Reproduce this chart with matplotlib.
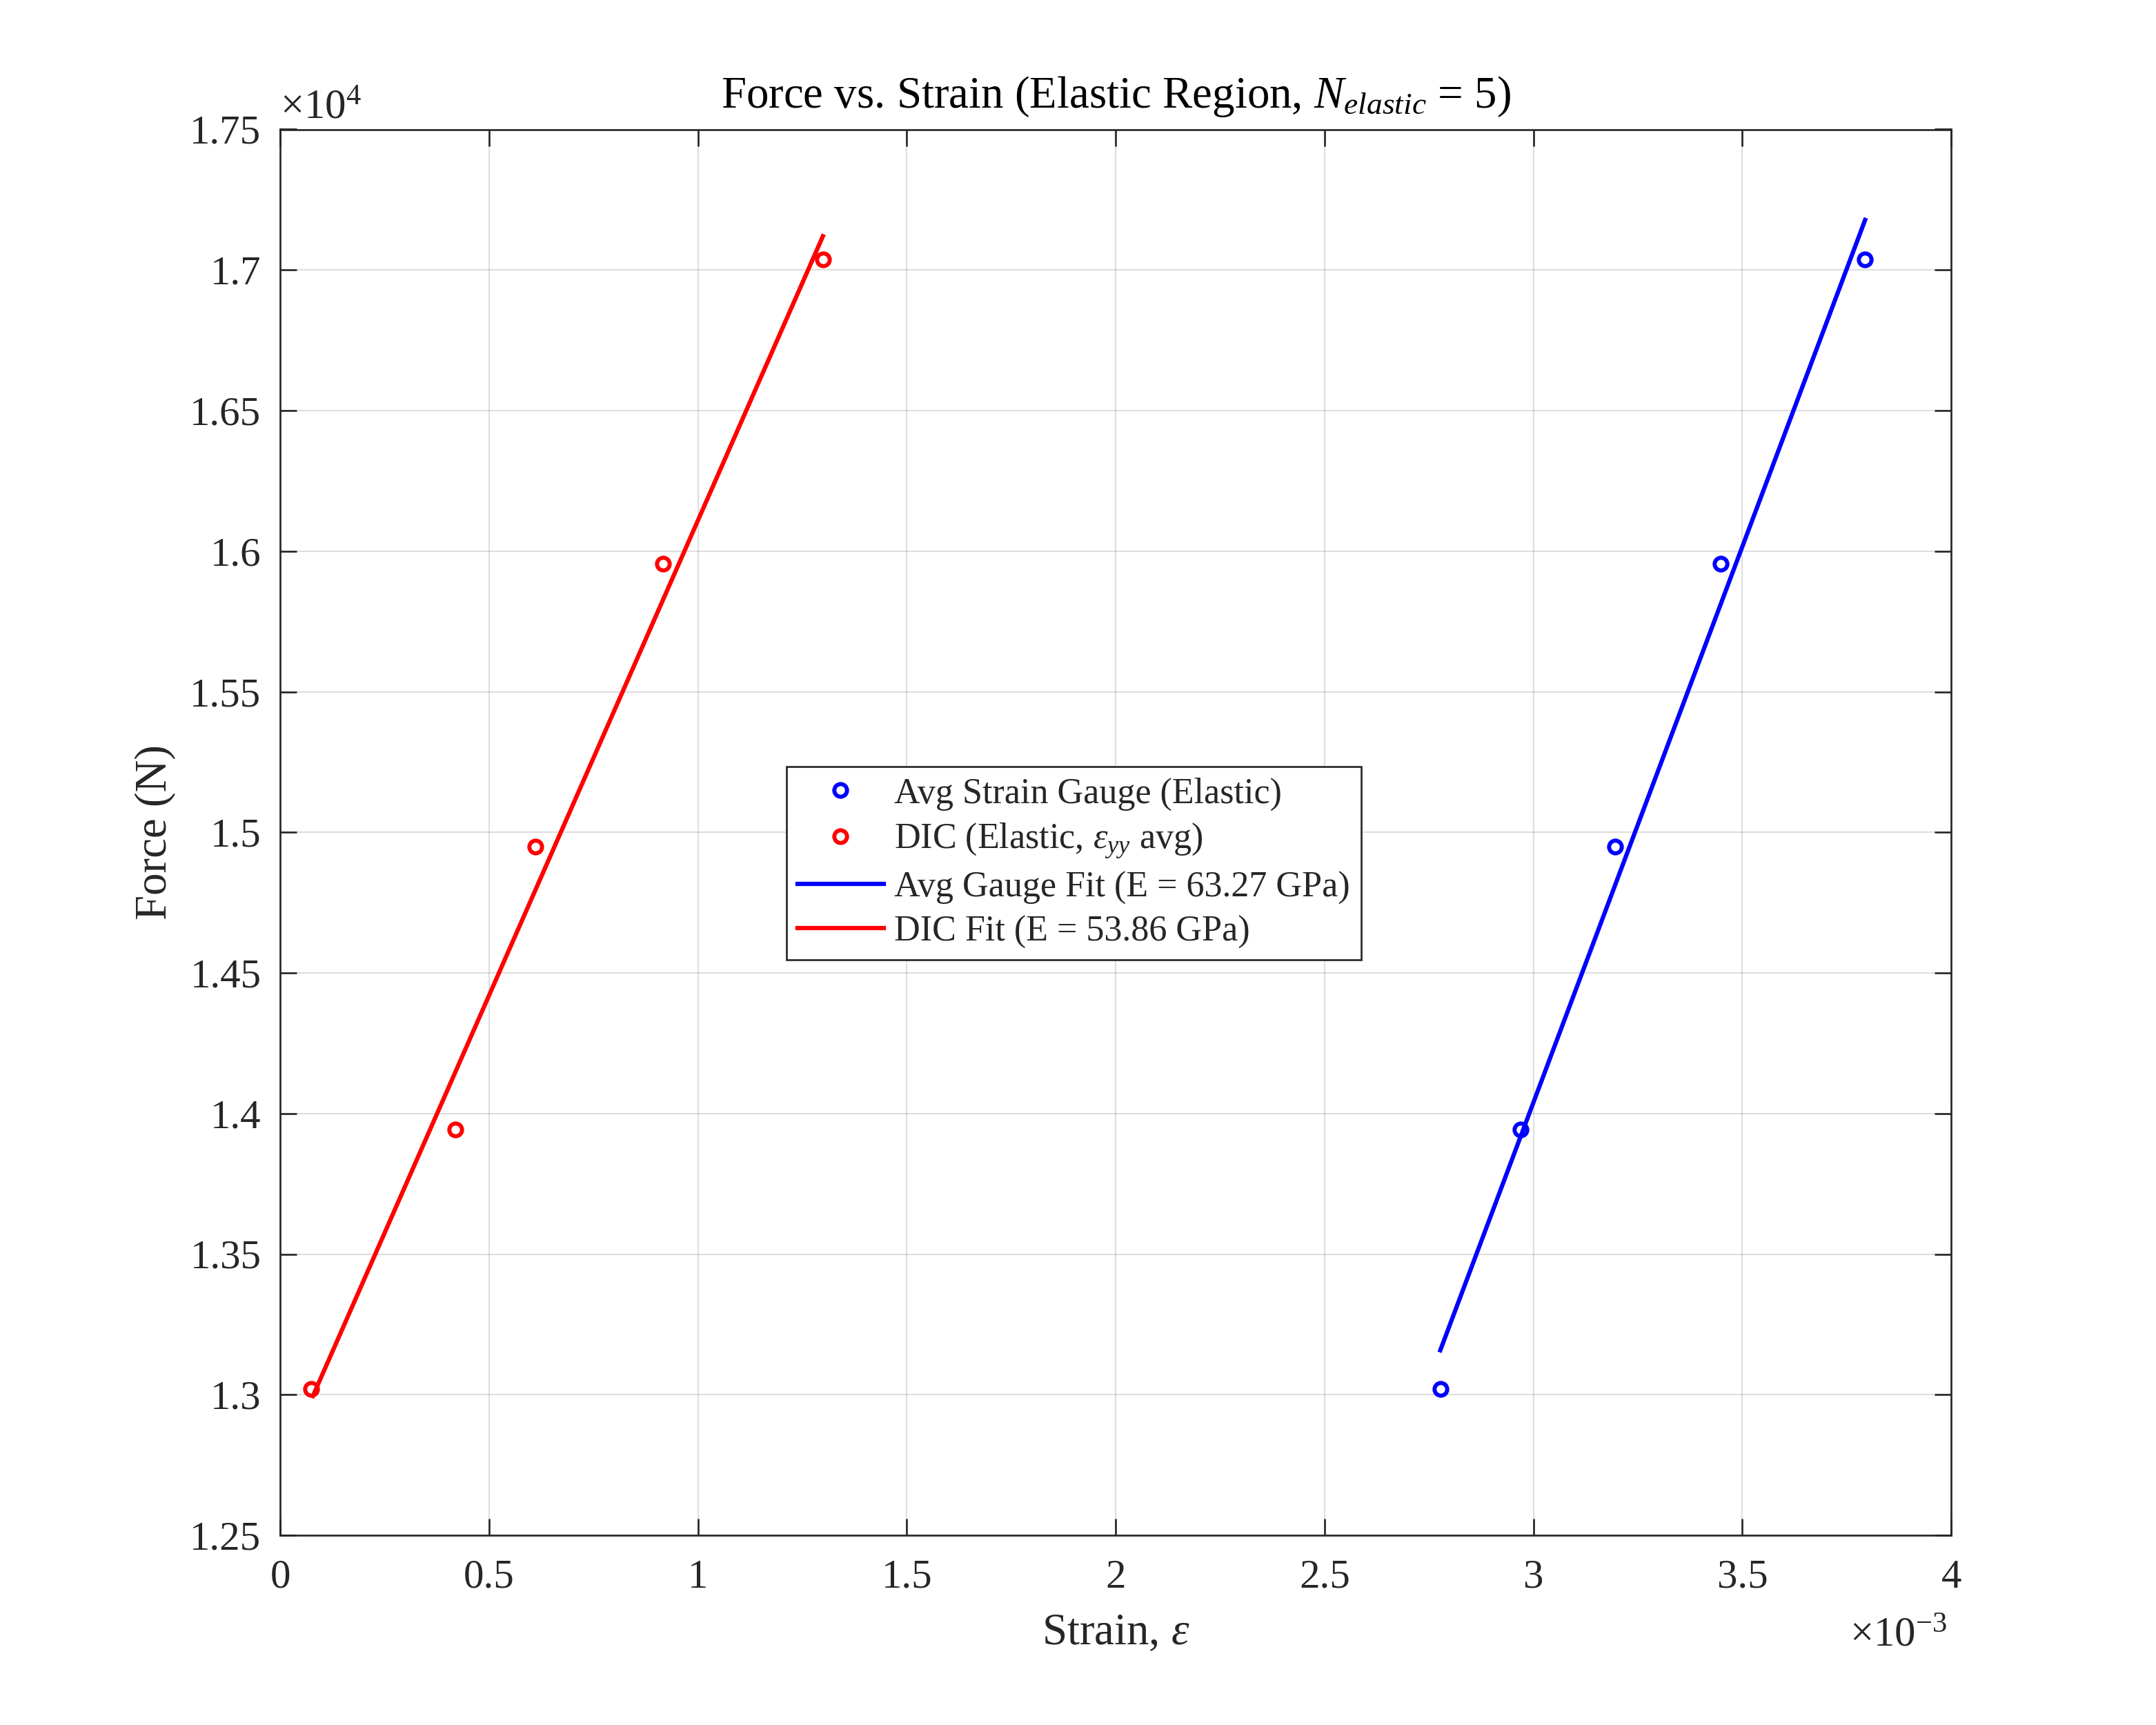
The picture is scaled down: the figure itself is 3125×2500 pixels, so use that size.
import matplotlib
matplotlib.use("Agg")
import matplotlib.pyplot as plt
from matplotlib.ticker import FuncFormatter, MultipleLocator

plt.rcParams['font.family'] = ['Liberation Serif', 'DejaVu Serif']
plt.rcParams['mathtext.fontset'] = 'custom'
plt.rcParams['mathtext.rm'] = 'Liberation Serif'
plt.rcParams['mathtext.it'] = 'Liberation Serif:italic'

# donnees
force = [13020, 13943, 14950, 15954, 17037]
strainGauge = [2.777e-3, 2.969e-3, 3.195e-3, 3.448e-3, 3.794e-3]
strainDIC = [0.0735e-3, 0.419e-3, 0.610e-3, 0.916e-3, 1.299e-3]

# droites de regression (extremites)
fitGaugeX = [2.777e-3, 3.794e-3]
fitGaugeY = [13158, 17178]
fitDICX = [0.0780e-3, 1.299e-3]
fitDICY = [12995, 17120]

labels = ["Avg Strain Gauge (Elastic)",
          r"DIC (Elastic, $\varepsilon_{yy}$ avg)",
          "Avg Gauge Fit (E = 63.27 GPa)",
          "DIC Fit (E = 53.86 GPa)"]

gris = "#262626"

fig = plt.figure(figsize=(12.5, 10), dpi=250)
ax = fig.add_axes([0.13, 0.11, 0.775, 0.815])

ax.plot(strainGauge, force, "o", color="blue", mfc="none", ms=5.3, mew=1.7, label=labels[0])
ax.plot(strainDIC, force, "o", color="red", mfc="none", ms=5.3, mew=1.7, label=labels[1])
ax.plot(fitGaugeX, fitGaugeY, "-", color="blue", lw=1.8, label=labels[2])
ax.plot(fitDICX, fitDICY, "-", color="red", lw=1.8, label=labels[3])

ax.set_xlim(0, 4e-3)
ax.set_ylim(12500, 17500)
ax.xaxis.set_major_locator(MultipleLocator(0.5e-3))
ax.yaxis.set_major_locator(MultipleLocator(500))
ax.xaxis.set_major_formatter(FuncFormatter(lambda v, p: f"{round(v * 1e3, 4):g}"))
ax.yaxis.set_major_formatter(FuncFormatter(lambda v, p: f"{round(v / 1e4, 4):g}"))

ax.tick_params(direction="in", top=True, right=True, length=6.9, width=0.77,
               color=gris, labelcolor=gris, labelsize=17, pad=8)
ax.tick_params(axis="x", pad=10)
for s in ax.spines.values():
	s.set_color(gris)
	s.set_linewidth(0.77)

ax.grid(True, color=(0.15, 0.15, 0.15), alpha=0.15, lw=0.6)
ax.set_axisbelow(True)

ax.set_title(r"Force vs. Strain (Elastic Region, $N_{elastic}$ = 5)", fontsize=18.7, color="black", pad=9)
ax.set_xlabel(r"Strain, $\varepsilon$", fontsize=18.7, color=gris, labelpad=7)
ax.set_ylabel("Force (N)", fontsize=18.7, color=gris, labelpad=6)

fig.text(406 / 3125, 1 - 172 / 2500, r"$\times10^{4}$", fontsize=17.5, color=gris, ha="left", va="baseline")
fig.text(2822 / 3125, 1 - 2386 / 2500, r"$\times10^{-3}$", fontsize=17.5, color=gris, ha="right", va="baseline")

leg = ax.legend(loc="upper left", bbox_to_anchor=(1140 / 3125, 1 - 1111 / 2500),
                bbox_transform=fig.transFigure, borderaxespad=0, fontsize=15.0,
                fancybox=False, framealpha=1, edgecolor=gris, handlelength=2.4,
                handletextpad=0.3, labelspacing=0.3, borderpad=0.3)
leg.get_frame().set_linewidth(0.77)
for t in leg.get_texts():
	t.set_color(gris)

fig.savefig("out.png", dpi=250, facecolor="white")
